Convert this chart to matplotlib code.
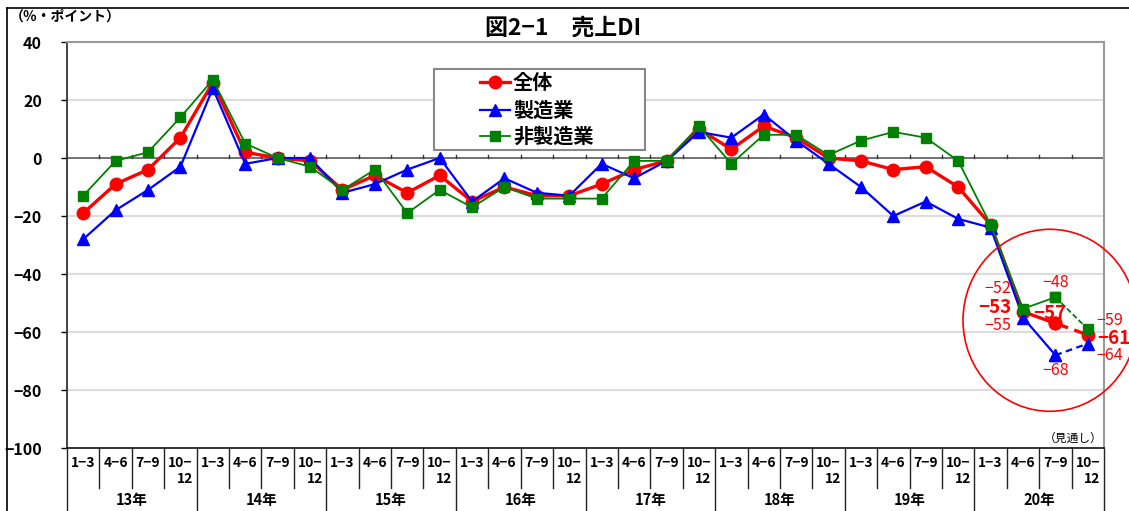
import numpy as np
import matplotlib
matplotlib.use("Agg")
import matplotlib.pyplot as plt
from matplotlib.patches import Ellipse, Rectangle
from matplotlib.lines import Line2D

plt.rcParams['font.family'] = ['Noto Sans CJK JP', 'DejaVu Sans']
plt.rcParams['axes.unicode_minus'] = True

# quarterly survey, 2013 Q1 .. 2020 Q4 (last quarter is the outlook)
years = ["13年", "14年", "15年", "16年", "17年", "18年", "19年", "20年"]
quarters = ["1−3", "4−6", "7−9", "10−"]

zentai = [-19, -9, -4, 7, 26, 2, 0, -1, -11, -6, -12, -6, -15, -10, -13, -13,
          -9, -4, -1, 10, 3, 11, 7, 0, -1, -4, -3, -10, -23, -53, -57, -61]
seizou = [-28, -18, -11, -3, 24, -2, 0, 0, -12, -9, -4, 0, -15, -7, -12, -13,
          -2, -7, -1, 9, 7, 15, 6, -2, -10, -20, -15, -21, -24, -55, -68, -64]
hiseizou = [-13, -1, 2, 14, 27, 5, 0, -3, -11, -4, -19, -11, -17, -10, -14, -14,
            -14, -1, -1, 11, -2, 8, 8, 1, 6, 9, 7, -1, -23, -52, -48, -59]

series = [
    ("全体", zentai, "#ff0000", "o", 9, 2.4, (0, (4, 2))),
    ("製造業", seizou, "#0000ff", "^", 9, 1.6, (0, (3, 2))),
    ("非製造業", hiseizou, "#008000", "s", 7.5, 1.3, (0, (3, 1.5))),
]

W, H = 1129, 511
fig = plt.figure(figsize=(W / 100, H / 100), dpi=100)
ax_l, ax_r, ax_t, ax_b = 67, 1104, 42, 448
ax = fig.add_axes([ax_l / W, 1 - ax_b / H, (ax_r - ax_l) / W, (ax_b - ax_t) / H])

n = len(zentai)
x = np.arange(n)
ax.set_xlim(-0.5, n - 0.5)
ax.set_ylim(-100, 40)

# grid and zero line
for v in [20, -20, -40, -60, -80]:
    ax.axhline(v, color="#dcdcdc", lw=1.5, zorder=0)
ax.axhline(0, color="#666666", lw=1.3, zorder=1)
for k in range(1, n):
    ax.plot([k - 0.5, k - 0.5], [0, 1.2], color="#333333", lw=1, zorder=1)

for label, vals, col, mk, ms, lw, ls in series:
    z = {"全体": 3, "製造業": 4, "非製造業": 5}[label]
    ax.plot(x[:n - 1], vals[:n - 1], color=col, lw=lw, marker=mk, ms=ms,
            markeredgecolor=col, zorder=z)
    ax.plot(x[n - 2:], vals[n - 2:], color=col, lw=lw, ls=ls, marker=mk, ms=ms,
            markeredgecolor=col, zorder=z)

# spines and ticks
for s in ["top", "right"]:
    ax.spines[s].set_color("#999999")
    ax.spines[s].set_linewidth(1.5)
ax.spines["left"].set_color("#333333")
ax.spines["bottom"].set_color("#222222")
ax.spines["left"].set_linewidth(1.3)
ax.spines["bottom"].set_linewidth(1.3)
ax.set_yticks(np.arange(-100, 41, 20))
ax.tick_params(axis="y", direction="out", length=4, width=1, pad=14,
               labelsize=11.5)
for t in ax.get_yticklabels():
    t.set_fontweight("bold")
ax.set_xticks([])

# category table under the plot
def ay(px):
    return (ax_b - px) / (ax_b - ax_t)

trans = ax.get_xaxis_transform()
for k in range(n + 1):
    xb = k - 0.5
    bottom = ay(511) if k % 4 == 0 else ay(488)
    ax.add_line(Line2D([xb, xb], [0, bottom], transform=trans, color="#222222",
                       lw=1, clip_on=False))
for i in range(n):
    q = quarters[i % 4]
    ax.text(i, ay(463), q, transform=trans, ha="center", va="center",
            fontsize=10, fontweight="bold", clip_on=False)
    if i % 4 == 3:
        ax.text(i + 0.14, ay(479), "12", transform=trans, ha="center",
                va="center", fontsize=10, fontweight="bold", clip_on=False)
for j, yr in enumerate(years):
    ax.text(j * 4 + 1.5, ay(500), yr, transform=trans, ha="center",
            va="center", fontsize=10.5, fontweight="bold", clip_on=False)
ax.text(31.45, ay(438), "（見通し）", transform=trans, ha="right", va="center",
        fontsize=8.5, clip_on=False)

# legend
lx0, lx1, ly0, ly1 = 434, 645, 69, 150
def axx(px):
    return (px - ax_l) / (ax_r - ax_l)
ax.add_patch(Rectangle((axx(lx0), ay(ly1)), axx(lx1) - axx(lx0),
                       ay(ly0) - ay(ly1), transform=ax.transAxes,
                       facecolor="white", edgecolor="#888888", lw=1.5,
                       zorder=6))
for (label, vals, col, mk, ms, lw, ls), py in zip(series, [82, 110, 136]):
    ax.add_line(Line2D([axx(480), axx(510)], [ay(py), ay(py)],
                       transform=ax.transAxes, color=col, lw=lw, zorder=7))
    ax.add_line(Line2D([axx(495)], [ay(py)], transform=ax.transAxes,
                       color=col, marker=mk, ms=ms, zorder=7))
    ax.text(axx(513), ay(py), label, transform=ax.transAxes, ha="left",
            va="center", fontsize=14.5, fontweight="bold", zorder=7)

# value labels on the last three quarters
def lab(i, vals, txt_dx, txt_dy, ha, bold=False):
    v = vals[i]
    ax.annotate(f"−{abs(v)}", (i, v), xytext=(txt_dx * 0.72, txt_dy * 0.72),
                textcoords="offset points", ha=ha, va="center", color="#ff0000",
                fontsize=13.5 if bold else 11.5,
                fontweight="bold" if bold else "normal",
                annotation_clip=False, zorder=8)

lab(29, hiseizou, -12, 20, "right")
lab(29, zentai, -12, 4, "right", bold=True)
lab(29, seizou, -12, -8, "right")
lab(30, hiseizou, 0, 15, "center")
lab(30, zentai, -6, 10, "center", bold=True)
lab(30, seizou, 0, -15, "center")
lab(31, hiseizou, 9, 9, "left")
lab(31, zentai, 9, -4, "left", bold=True)
lab(31, seizou, 9, -12, "left")

# highlight around the slump
cx, cy = (1050 - ax_l) / ((ax_r - ax_l) / n) - 0.5, (157.7 - 320) / 2.9
ax.add_patch(Ellipse((cx, cy), width=2 * 87 / ((ax_r - ax_l) / n),
                     height=2 * 91 / 2.9, fill=False, edgecolor="#ff0000",
                     lw=1.2, clip_on=False, zorder=8))

# titles and frame
fig.text(563 / W, 1 - 28 / H, "図2−1　売上DI", ha="center", va="center",
         fontsize=16.5, fontweight="bold")
fig.text(10 / W, 1 - 17 / H, "（％・ポイント）", ha="left", va="center",
         fontsize=10, fontweight="bold")
fig.add_artist(Line2D([7 / W, 1], [1 - 8 / H, 1 - 8 / H], color="black", lw=1.2))
fig.add_artist(Line2D([7 / W, 7 / W], [0, 1 - 8 / H], color="black", lw=1.2))

fig.savefig("out.png", dpi=100)
